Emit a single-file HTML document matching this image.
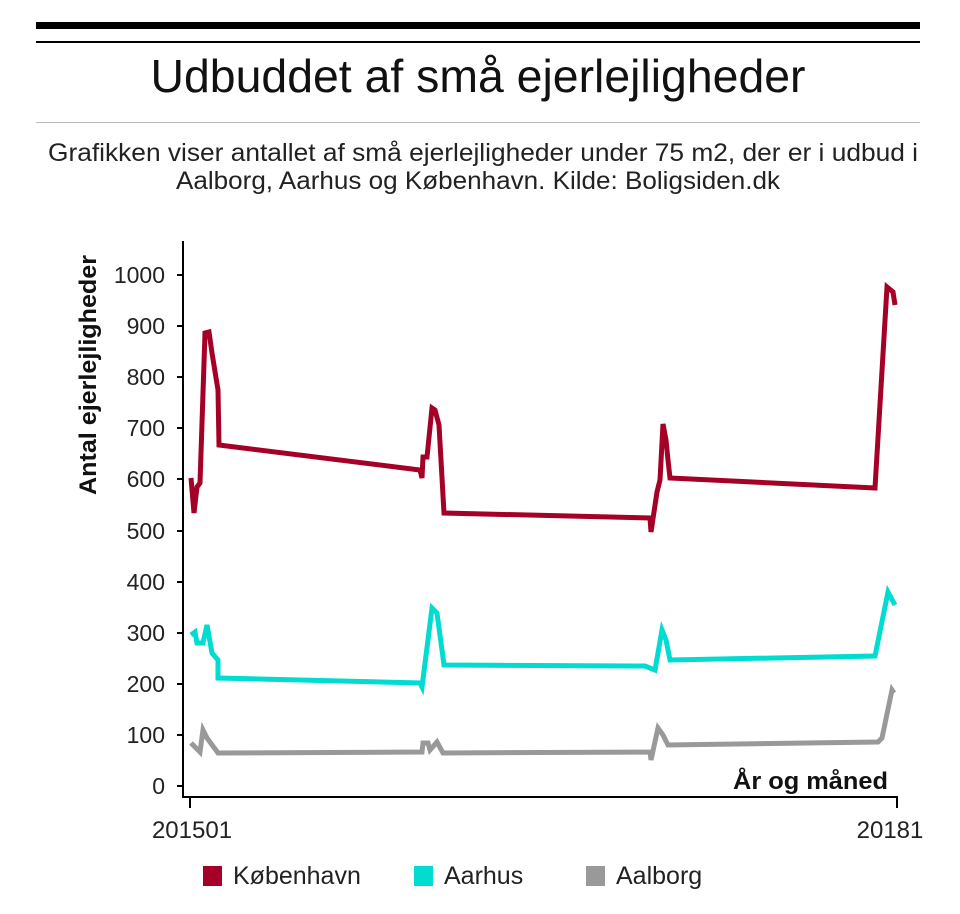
<!DOCTYPE html>
<html><head><meta charset="utf-8"><style>
body{margin:0;background:#fff;width:960px;height:909px;overflow:hidden;font-family:"Liberation Sans",Arial,sans-serif}
</style></head><body>
<svg width="960" height="909" xmlns="http://www.w3.org/2000/svg" font-family="Liberation Sans, Arial, sans-serif">
<rect x="36" y="22" width="884" height="7" fill="#000"/>
<rect x="36" y="41" width="884" height="2" fill="#000"/>
<text x="478" y="92" font-size="46" text-anchor="middle" fill="#111" textLength="655" lengthAdjust="spacingAndGlyphs">Udbuddet af små ejerlejligheder</text>
<rect x="36" y="122" width="884" height="1" fill="#bbb"/>
<text x="483" y="161" font-size="25" text-anchor="middle" fill="#222" textLength="870" lengthAdjust="spacingAndGlyphs">Grafikken viser antallet af små ejerlejligheder under 75 m2, der er i udbud i</text>
<text x="478" y="189" font-size="25" text-anchor="middle" fill="#222" textLength="604" lengthAdjust="spacingAndGlyphs">Aalborg, Aarhus og København. Kilde: Boligsiden.dk</text>
<g stroke="#000" stroke-width="2" fill="none">
<line x1="183" y1="241" x2="183" y2="798"/>
<line x1="183" y1="797" x2="898" y2="797"/>
<line x1="190" y1="797" x2="190" y2="808"/>
<line x1="897" y1="797" x2="897" y2="808"/>
<line x1="177" y1="786" x2="183" y2="786"/><line x1="177" y1="735" x2="183" y2="735"/>
<line x1="177" y1="684" x2="183" y2="684"/><line x1="177" y1="633" x2="183" y2="633"/>
<line x1="177" y1="582" x2="183" y2="582"/><line x1="177" y1="531" x2="183" y2="531"/>
<line x1="177" y1="479" x2="183" y2="479"/><line x1="177" y1="428" x2="183" y2="428"/>
<line x1="177" y1="377" x2="183" y2="377"/><line x1="177" y1="326" x2="183" y2="326"/>
<line x1="177" y1="275" x2="183" y2="275"/>
</g>
<g font-size="23" fill="#222" text-anchor="end">
<text x="165" y="794">0</text><text x="165" y="743">100</text><text x="165" y="692">200</text>
<text x="165" y="641">300</text><text x="165" y="590">400</text><text x="165" y="539">500</text>
<text x="165" y="487">600</text><text x="165" y="436">700</text><text x="165" y="385">800</text>
<text x="165" y="334">900</text><text x="165" y="283">1000</text>
</g>
<text x="96" y="375" font-size="24" font-weight="bold" text-anchor="middle" transform="rotate(-90 96 375)" fill="#111" textLength="240" lengthAdjust="spacingAndGlyphs">Antal ejerlejligheder</text>
<text x="888" y="789" font-size="24" font-weight="bold" text-anchor="end" fill="#111" textLength="155" lengthAdjust="spacingAndGlyphs">År og måned</text>
<text x="192" y="838" font-size="24" text-anchor="middle" fill="#222">201501</text>
<text x="890" y="838" font-size="24" text-anchor="middle" fill="#222">20181</text>
<g fill="none" stroke-width="5" stroke-linejoin="miter">
<polyline stroke="#a50026" points="191,478 194,513 197,487 200,483 205,333 209,332 212,353 218,390 219,445 420,470 422,478 423,457 427,457 432,408 435,410 439,425 444,513 650,518 651,532 657,492 660,480 663,424 666,440 668,460 670,478 875,488 887,287 893,292 895,305"/>
<polyline stroke="#00dcd0" points="191,635 195,632 197,643 203,643 207,625 212,653 218,660 218,678 420,683 422,687 432,608 437,613 444,665 645,666 655,670 662,630 666,640 670,660 875,656 888,592 895,605"/>
<polyline stroke="#999" points="191,743 200,752 203,730 207,738 218,753 422,752 423,743 428,743 430,750 437,742 443,753 650,752 651,760 658,728 663,735 668,745 878,742 882,738 892,690 894,693"/>
</g>
<rect x="203" y="866" width="19" height="20" fill="#a50026"/>
<text x="233" y="884" font-size="25" fill="#222">København</text>
<rect x="414" y="866" width="19" height="20" fill="#00dcd0"/>
<text x="444" y="884" font-size="25" fill="#222">Aarhus</text>
<rect x="586" y="866" width="19" height="20" fill="#999"/>
<text x="616" y="884" font-size="25" fill="#222">Aalborg</text>
</svg>
</body></html>
